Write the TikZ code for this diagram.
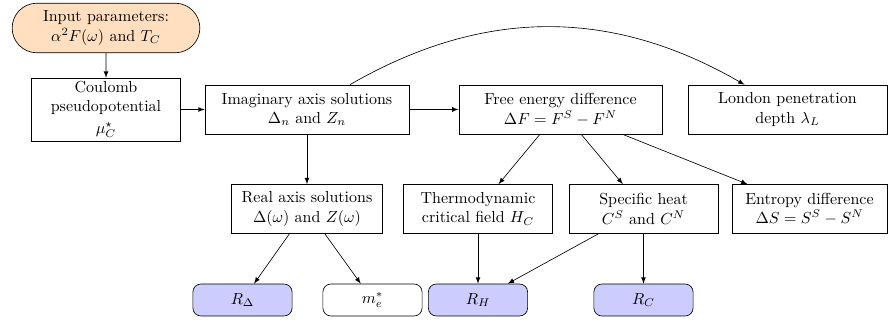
\documentclass[tikz,border=0pt]{standalone}
\usetikzlibrary{shapes.misc}
\begin{document}
\begin{tikzpicture}[x=0.625pt,y=0.625pt,>=latex]
\tikzset{
	boite/.style={draw,rectangle,align=center,minimum height=30.6pt},
	resultat/.style={draw,rectangle,rounded corners=5pt,minimum width=62pt,minimum height=20pt,fill=blue!20},
}
  \useasboundingbox (0,0) rectangle (888,-324);

  % les données d'entrée
  \node[draw,rounded rectangle,fill=orange!25,align=center,minimum width=124pt,minimum height=31pt] (entree) at (106,-28) {Input parameters:\\ $\alpha^2F(\omega)$ and $T_C$};
  \node[boite,minimum width=93pt,minimum height=38pt,inner ysep=2pt] (coulomb) at (106,-109.5) {Coulomb\\ pseudopotential\\[1.5pt] $\mu_C^\star$};

  % les équations d'Eliashberg
  \node[boite,minimum width=127.5pt] (imag) at (307,-109.5) {Imaginary axis solutions\\ $\Delta_n$ and $Z_n$};
  \node[boite,minimum width=127pt] (libre) at (560.5,-109.5) {Free energy difference\\ $\Delta F = F^S - F^N$};
  \node[boite,minimum width=124.5pt] (london) at (787.5,-109.5) {London penetration\\ depth $\lambda_L$};

  \node[boite,minimum width=94pt] (reel) at (307,-209) {Real axis solutions\\ $\Delta(\omega)$ and $Z(\omega)$};
  \node[boite,minimum width=93pt] (thermo) at (478,-209) {Thermodynamic\\ critical field $H_C$};
  \node[boite,minimum width=93pt] (chaleur) at (643.5,-209) {Specific heat\\ $C^S$ and $C^N$};
  \node[boite,minimum width=97pt] (entropie) at (809.5,-209) {Entropy difference\\ $\Delta S = S^S - S^N$};

  % les rapports
  \node[resultat] (rdelta) at (242.5,-300) {$R_\Delta$};
  \node[resultat,fill=white] (masse) at (372.5,-300) {$m_e^*$};
  \node[resultat] (rh) at (478,-300) {$R_H$};
  \node[resultat] (rc) at (643.5,-300) {$R_C$};

  % les flèches
  \draw[->] (entree) -- (coulomb);
  \draw[->] (coulomb) -- (imag);
  \draw[->] (imag) -- (libre);
  \draw[->] (imag) -- (reel);
  \draw[->] (imag) to[bend left=30] (london);
  \foreach \n in {thermo,chaleur,entropie}
    \draw[->] (libre) -- (\n);
  \draw[->] (reel) -- (rdelta);
  \draw[->] (reel) -- (masse);
  \draw[->] (thermo) -- (rh);
  \draw[->] (chaleur) -- (rh);
  \draw[->] (chaleur) -- (rc);
\end{tikzpicture}
\end{document}
